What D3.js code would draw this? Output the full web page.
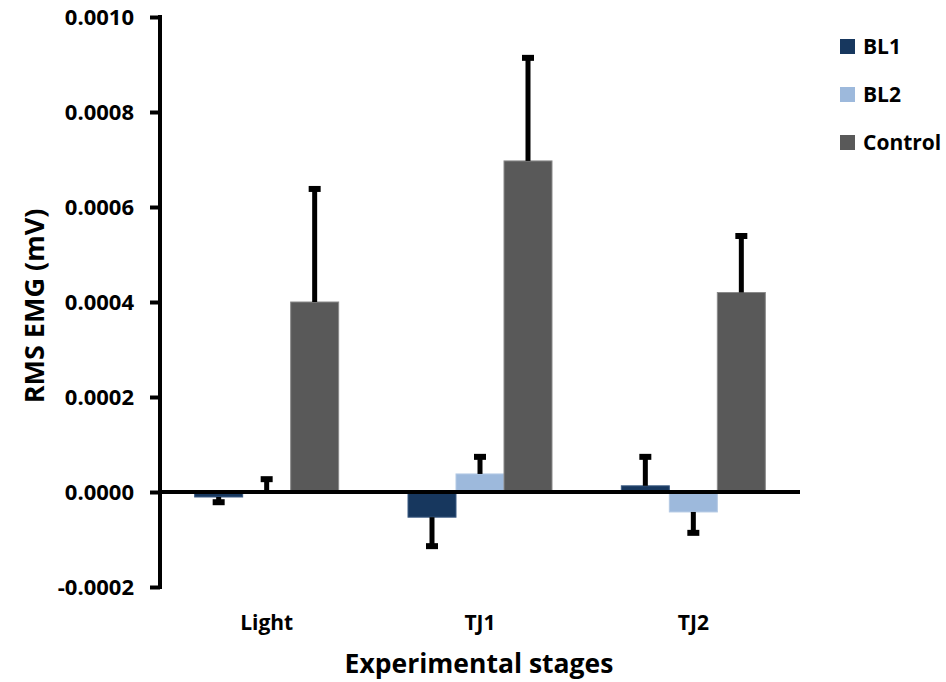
<!DOCTYPE html>
<html>
<head>
<meta charset="utf-8">
<script src="https://cdn.jsdelivr.net/npm/d3@7"></script>
<style>
body { margin: 0; background: #fff; }
text { font-family: "Open Sans", Lato, sans-serif; font-weight: bold; fill: #000; }
</style>
</head>
<body>
<div id="chart"></div>
<script>
var categories = ["Light", "TJ1", "TJ2"];
var seriesNames = ["BL1", "BL2", "Control"];
var bl1 = [-0.0000105, -0.000053, 0.000013];
var bl1Err = [0.000011, 0.000061, 0.000061];
var bl2 = [0.000002, 0.000038, -0.000042];
var bl2Err = [0.000025, 0.000036, 0.000044];
var control = [0.0004, 0.000697, 0.00042];
var controlErr = [0.000238, 0.000217, 0.000119];
var yTicks = [-0.0002, 0, 0.0002, 0.0004, 0.0006, 0.0008, 0.0010];
var yTickLabels = ["-0.0002", "0.0000", "0.0002", "0.0004", "0.0006", "0.0008", "0.0010"];

var colors = ["#17375e", "#9db9dc", "#595959"];
var edges = ["#3a5a82", "#b4c9e4", "#8a8a8a"];

var w = 946;
var h = 682;
var mLeft = 160, mRight = 800, mTop = 17, mBottom = 587;

var values = [bl1, bl2, control];
var errs = [bl1Err, bl2Err, controlErr];

var rows = [];
categories.forEach(function(c, i) {
    seriesNames.forEach(function(s, j) {
        rows.push({cat: c, series: s, idx: j, v: values[j][i], e: errs[j][i]});
    });
});

var svg = d3.select("#chart")
    .append("svg")
    .attr("width", w)
    .attr("height", h);

var x = d3.scaleBand()
    .domain(categories)
    .range([mLeft, mRight])
    .paddingInner(0.325)
    .paddingOuter(0.1625);

var xs = d3.scaleBand()
    .domain(seriesNames)
    .range([0, x.bandwidth()]);

var y = d3.scaleLinear()
    .domain([-0.0002, 0.0010])
    .range([mBottom, mTop]);

function cx(d) { return x(d.cat) + xs(d.series) + xs.bandwidth() / 2; }
function tip(d) { return y(d.v + (d.v < 0 ? -d.e : d.e)); }

// bars
svg.selectAll("rect.bar")
    .data(rows)
    .enter()
    .append("rect")
    .attr("class", "bar")
    .attr("x", function(d) { return x(d.cat) + xs(d.series); })
    .attr("width", xs.bandwidth())
    .attr("y", function(d) { return y(Math.max(0, d.v)); })
    .attr("height", function(d) { return Math.abs(y(d.v) - y(0)); })
    .attr("fill", function(d) { return colors[d.idx]; })
    .attr("stroke", function(d) { return edges[d.idx]; })
    .attr("stroke-width", 1);

// error bars, one sided away from zero
var eb = svg.selectAll("g.err")
    .data(rows)
    .enter()
    .append("g")
    .attr("class", "err");

eb.append("line")
    .attr("x1", cx)
    .attr("x2", cx)
    .attr("y1", function(d) { return y(d.v); })
    .attr("y2", tip)
    .attr("stroke", "#000")
    .attr("stroke-width", 5);

eb.append("line")
    .attr("x1", function(d) { return cx(d) - 6; })
    .attr("x2", function(d) { return cx(d) + 6; })
    .attr("y1", tip)
    .attr("y2", tip)
    .attr("stroke", "#000")
    .attr("stroke-width", 6);

// y axis
var yAxis = d3.axisLeft(y)
    .tickValues(yTicks)
    .tickFormat(function(d, i) { return yTickLabels[i]; })
    .tickSize(10)
    .tickSizeOuter(0)
    .tickPadding(16);

var ga = svg.append("g")
    .attr("transform", "translate(" + mLeft + ",0)")
    .call(yAxis);
ga.selectAll("path, line").attr("stroke", "#000").attr("stroke-width", 4);
ga.select("path").attr("d", "M0," + (mTop - 2) + "V" + (mBottom + 2));
ga.selectAll("text").style("font-size", "22px").attr("fill", "#000");

// zero line
svg.append("line")
    .attr("x1", mLeft)
    .attr("x2", mRight)
    .attr("y1", y(0))
    .attr("y2", y(0))
    .attr("stroke", "#000")
    .attr("stroke-width", 4);

// category labels
svg.selectAll("text.cat")
    .data(categories)
    .enter()
    .append("text")
    .attr("class", "cat")
    .attr("x", function(d) { return x(d) + x.bandwidth() / 2; })
    .attr("y", 630)
    .attr("text-anchor", "middle")
    .style("font-size", "21px")
    .text(function(d) { return d; });

svg.append("text")
    .attr("x", 479)
    .attr("y", 673)
    .attr("text-anchor", "middle")
    .style("font-size", "26.5px")
    .text("Experimental stages");

svg.append("text")
    .attr("transform", "translate(44,306) rotate(-90)")
    .attr("text-anchor", "middle")
    .style("font-size", "27px")
    .text("RMS EMG (mV)");

// legend
var lg = svg.selectAll("g.leg")
    .data(seriesNames)
    .enter()
    .append("g")
    .attr("class", "leg")
    .attr("transform", function(d, i) { return "translate(840," + (47 + i * 48) + ")"; });

lg.append("rect")
    .attr("x", 0)
    .attr("y", -8)
    .attr("width", 15)
    .attr("height", 15)
    .attr("fill", function(d, i) { return colors[i]; });

lg.append("text")
    .attr("x", 23)
    .attr("y", 7)
    .style("font-size", "21px")
    .text(function(d) { return d; });
</script>
</body>
</html>
